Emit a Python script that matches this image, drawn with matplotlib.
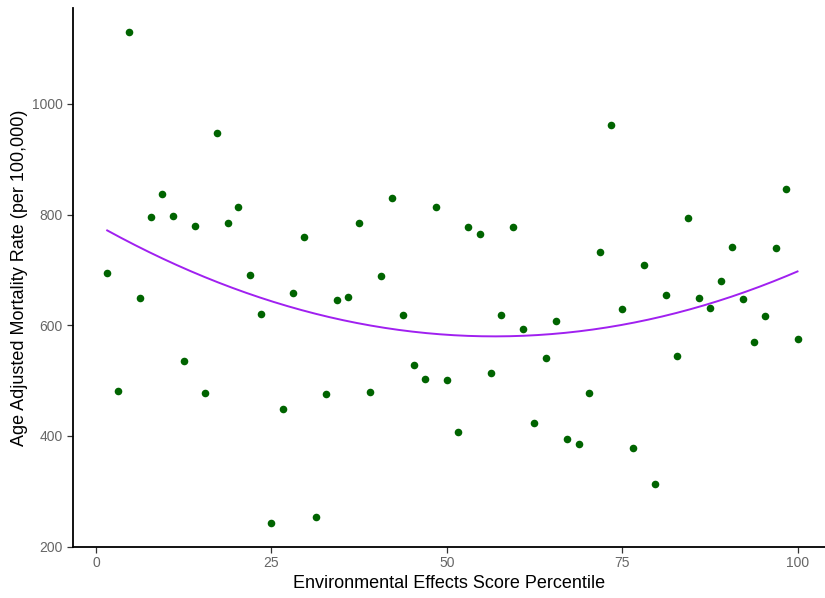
import matplotlib

matplotlib.use("Agg")

import matplotlib.pyplot as plt
import numpy as np

plt.rcParams["font.family"] = ["Liberation Sans", "DejaVu Sans"]

# environmental effects percentile vs age adjusted mortality
score_pct = [
    1.6, 3.1, 4.7, 6.3, 7.8, 9.4, 11.0, 12.5, 14.1, 15.6, 17.2, 18.8, 20.3,
    21.9, 23.5, 25.0, 26.6, 28.1, 29.7, 31.3, 32.8, 34.4, 35.9, 37.5, 39.1,
    40.6, 42.2, 43.8, 45.3, 46.9, 48.4, 50.0, 51.6, 53.1, 54.7, 56.3, 57.8,
    59.4, 60.9, 62.5, 64.1, 65.6, 67.2, 68.8, 70.3, 71.9, 73.4, 75.0, 76.6,
    78.1, 79.7, 81.3, 82.8, 84.4, 85.9, 87.5, 89.1, 90.6, 92.2, 93.8, 95.3,
    96.9, 98.4, 100.0,
]
mortality = [
    694, 482, 1130, 650, 795, 837, 798, 536, 779, 478, 948, 784, 813,
    690, 620, 243, 448, 658, 760, 253, 475, 645, 651, 784, 479,
    689, 830, 619, 528, 502, 813, 501, 408, 778, 765, 513, 619,
    777, 593, 423, 541, 608, 395, 385, 478, 733, 961, 630, 378,
    709, 313, 654, 545, 793, 650, 631, 680, 742, 647, 569, 616,
    739, 846, 576,
]

x = np.array(score_pct)
y = np.array(mortality)
# quadratic trend, like geom_smooth(method = lm, formula = y ~ poly(x, 2))
coef = np.polyfit(x, y, 2)
xs = np.linspace(x.min(), x.max(), 200)
ys = np.polyval(coef, xs)

fig = plt.figure(figsize=(8.25, 5.98), dpi=100)
ax = fig.add_axes([0.0881, 0.0858, 0.9119, 0.9008])

ax.scatter(x, y, s=30, color="#006400", linewidths=0, zorder=3)
ax.plot(xs, ys, color="#A020F0", linewidth=1.4, zorder=2)

ax.set_xlim(-3.32, 103.92)
ax.set_ylim(200, 1173)
ax.set_xticks([0, 25, 50, 75, 100])
ax.set_yticks([200, 400, 600, 800, 1000])

ax.set_xlabel("Environmental Effects Score Percentile", fontsize=13, color="black", labelpad=3)
ax.set_ylabel("Age Adjusted Mortality Rate (per 100,000)", fontsize=13, color="black", labelpad=3)

ax.tick_params(colors="#333333", labelcolor="#666666", labelsize=10, length=4, width=0.9, pad=3)
for side in ("top", "right"):
    ax.spines[side].set_visible(False)
for side in ("left", "bottom"):
    ax.spines[side].set_color("black")
    ax.spines[side].set_linewidth(1.3)

fig.savefig("out.png", dpi=100)
